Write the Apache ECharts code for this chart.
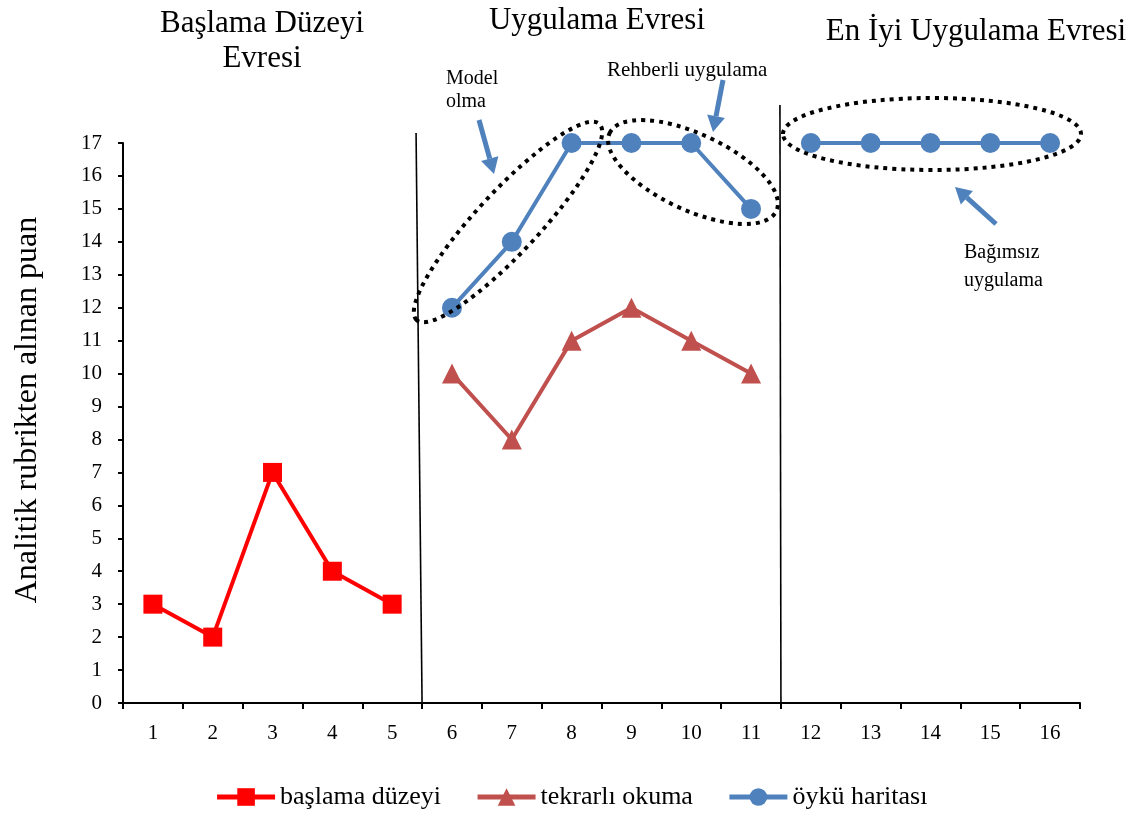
<!DOCTYPE html>
<html>
<head>
<meta charset="utf-8">
<script src="https://cdn.jsdelivr.net/npm/echarts@6/dist/echarts.min.js"></script>
<style>
  html, body { margin: 0; padding: 0; background: #fff; }
  #main { width: 1142px; height: 816px; }
</style>
</head>
<body>
<div id="main"></div>
<script>
var chart = echarts.init(document.getElementById('main'));

// veriler
var categories = ['1', '2', '3', '4', '5', '6', '7', '8', '9', '10', '11', '12', '13', '14', '15', '16'];
var baslamaDuzeyi = [3, 2, 7, 4, 3, null, null, null, null, null, null, null, null, null, null, null];
var tekrarliOkuma = [null, null, null, null, null, 10, 8, 11, 12, 11, 10, null, null, null, null, null];
var oykuUygulama = [null, null, null, null, null, 12, 14, 17, 17, 17, 15, null, null, null, null, null];
var oykuEnIyi = [null, null, null, null, null, null, null, null, null, null, null, 17, 17, 17, 17, 17];
var yTicks = [0, 17, 1];

var serif = '"Liberation Serif", "Times New Roman", serif';
var blue = '#4F81BD';

var option = {
    animation: false,
    textStyle: { fontFamily: serif, color: '#000' },
    grid: { left: 123, right: 62, top: 143, bottom: 113 },
    legend: {
        bottom: 1,
        left: 'center',
        itemWidth: 58,
        itemHeight: 22,
        itemGap: 34,
        lineStyle: { width: 5 },
        textStyle: { fontFamily: serif, fontSize: 26, color: '#000' },
        data: ['başlama düzeyi', 'tekrarlı okuma', 'öykü haritası']
    },
    xAxis: {
        type: 'category',
        data: categories,
        boundaryGap: true,
        axisLine: { lineStyle: { color: '#000', width: 2 } },
        axisTick: { show: true, length: 6, lineStyle: { color: '#000', width: 2 } },
        axisLabel: { color: '#000', fontSize: 21, fontFamily: serif, margin: 20 },
        splitLine: { show: false }
    },
    yAxis: {
        type: 'value',
        min: yTicks[0],
        max: yTicks[1],
        interval: yTicks[2],
        axisLine: { show: true, lineStyle: { color: '#000', width: 2 } },
        axisTick: { show: true, length: 5, lineStyle: { color: '#000', width: 2 } },
        axisLabel: { color: '#000', fontSize: 21, fontFamily: serif, margin: 21 },
        splitLine: { show: false }
    },
    series: [
        {
            name: 'başlama düzeyi',
            type: 'line',
            data: baslamaDuzeyi,
            color: '#FF0000',
            symbol: 'rect',
            symbolSize: 19,
            lineStyle: { width: 4 },
            z: 3
        },
        {
            name: 'tekrarlı okuma',
            type: 'line',
            data: tekrarliOkuma,
            color: '#C0504D',
            symbol: 'triangle',
            symbolSize: 20,
            lineStyle: { width: 4 },
            z: 3
        },
        {
            name: 'öykü haritası',
            type: 'line',
            data: oykuUygulama,
            color: blue,
            symbol: 'circle',
            symbolSize: 20,
            lineStyle: { width: 4 },
            z: 3
        },
        {
            name: 'öykü haritası',
            type: 'line',
            data: oykuEnIyi,
            color: blue,
            symbol: 'circle',
            symbolSize: 20,
            lineStyle: { width: 4 },
            z: 3
        }
    ]
};

chart.setOption(option);

// faz ayırıcı çizgileri ve açıklamalar
function boundaryX(i) {
    var a = chart.convertToPixel({ xAxisIndex: 0 }, i);
    var b = chart.convertToPixel({ xAxisIndex: 0 }, i + 1);
    return (a + b) / 2;
}
var y0 = chart.convertToPixel({ yAxisIndex: 0 }, 0);

function arrow(x1, y1, x2, y2) {
    var ang = Math.atan2(y2 - y1, x2 - x1);
    var hl = 16, hw = 9;
    var bx = x2 - hl * Math.cos(ang), by = y2 - hl * Math.sin(ang);
    var px = -Math.sin(ang), py = Math.cos(ang);
    return [
        { type: 'line', shape: { x1: x1, y1: y1, x2: bx, y2: by }, style: { stroke: blue, lineWidth: 5 }, z: 10 },
        { type: 'polygon', shape: { points: [[x2, y2], [bx + px * hw, by + py * hw], [bx - px * hw, by - py * hw]] }, style: { fill: blue }, z: 10 }
    ];
}

function dotted(cx, cy, rx, ry, rot) {
    return {
        type: 'ellipse', x: cx, y: cy, rotation: rot * Math.PI / 180,
        shape: { cx: 0, cy: 0, rx: rx, ry: ry },
        style: { fill: null, stroke: '#000', lineWidth: 4, lineDash: [4, 5] },
        z: 10
    };
}

function label(x, y, text, size, lh, align) {
    return {
        type: 'text', x: x, y: y,
        style: { text: text, font: size + 'px ' + serif, fill: '#000', textAlign: align || 'left', textVerticalAlign: 'middle', lineHeight: lh },
        z: 10
    };
}

var d1 = boundaryX(4), d2 = boundaryX(10);
var graphics = [
    { type: 'line', shape: { x1: d1 - 6, y1: 133, x2: d1, y2: y0 }, style: { stroke: '#000', lineWidth: 1.6 }, z: 5 },
    { type: 'line', shape: { x1: d2 - 1, y1: 105, x2: d2, y2: y0 }, style: { stroke: '#000', lineWidth: 1.6 }, z: 5 },
    label(262, 41, 'Başlama Düzeyi\nEvresi', 31, 35, 'center'),
    label(597, 21, 'Uygulama Evresi', 31, 35, 'center'),
    label(976, 32, 'En İyi Uygulama Evresi', 31, 35, 'center'),
    label(446, 90, 'Model\nolma', 20, 23),
    label(607, 70, 'Rehberli uygulama', 21, 23),
    label(964, 267, 'Bağımsız\nuygulama', 20, 28),
    {
        type: 'text', x: 28, y: 410, rotation: Math.PI / 2,
        style: { text: 'Analitik rubrikten alınan puan', font: '32px ' + serif, fill: '#000', textAlign: 'center', textVerticalAlign: 'middle' }
    },
    dotted(508, 222, 134, 31, 47),
    dotted(693, 172, 92, 38, -25),
    dotted(932, 134, 149, 36, 0)
];
graphics = graphics.concat(arrow(479, 120, 494, 174), arrow(723, 80, 713, 132), arrow(996, 224, 955, 187));

chart.setOption({ graphic: graphics });
</script>
</body>
</html>
